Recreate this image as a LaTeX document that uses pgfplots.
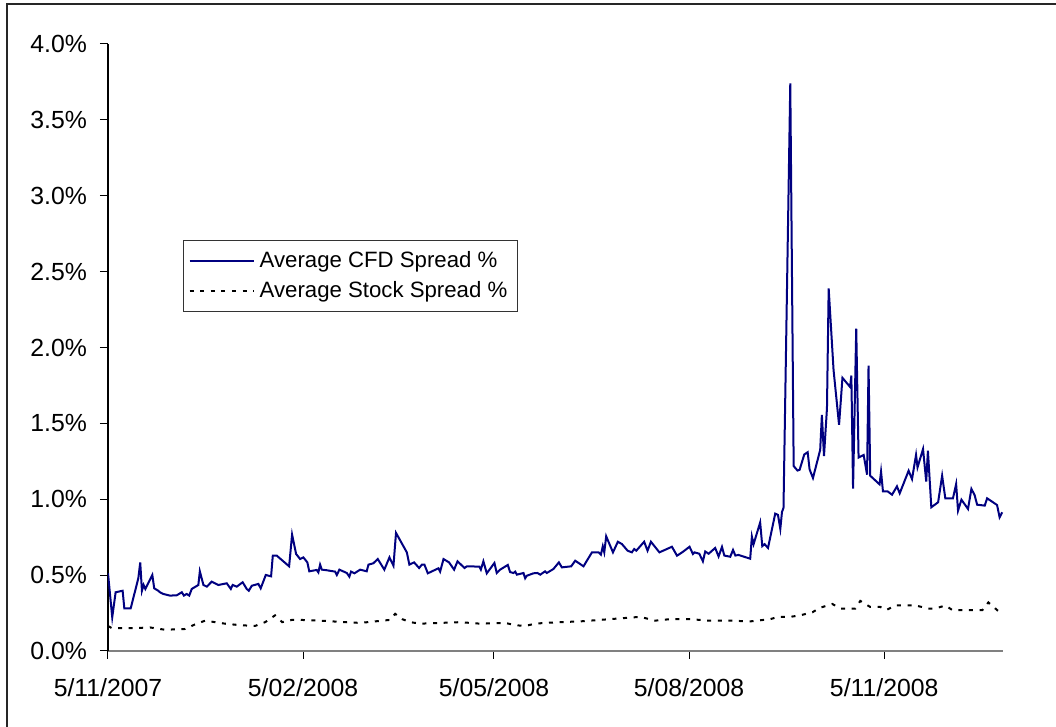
\documentclass[border=0pt]{standalone}
\usepackage{fontspec}
\setmainfont{Liberation Sans}
\usepackage{pgfplots}
\pgfplotsset{compat=1.18}
\definecolor{cfdblue}{RGB}{0,0,128}

\begin{document}
\begin{tikzpicture}
% page = whole chart area, frame only shows on top and left
\useasboundingbox (-54pt,-38pt) rectangle (474pt,325.5pt);
\draw[line width=1pt, black!85] (-50.5pt,-40pt) -- (-50.5pt,323.5pt) -- (476pt,323.5pt);
\begin{axis}[
    at={(0pt,0pt)}, anchor=south west,
    scale only axis,
    width=447.5pt, height=303.5pt,
    xmin=0, xmax=422, ymin=0, ymax=4,
    axis lines*=left,
    x axis line style={draw=gray, line width=1pt},
    y axis line style={draw=black, line width=0.6pt},
    tick align=outside,
    major tick length=4pt,
    tick style={black, line width=0.5pt},
    xtick={0,92,182,274,366},
    xticklabels={5/11/2007,5/02/2008,5/05/2008,5/08/2008,5/11/2008},
    ytick={0,0.5,...,4},
    yticklabel={\pgfmathprintnumber[fixed,fixed zerofill,precision=1,assume math mode=true]{\tick}\%},
    tick label style={font=\fontsize{12.4}{14}\selectfont},
    xticklabel style={yshift=-6pt},
    yticklabel style={xshift=-3pt},
    legend image code/.code={\draw[#1] (0pt,0pt) -- (32pt,0pt);},
    legend cell align=left,
    legend style={at={(0.0838,0.677)}, anchor=north west,
        draw=black!80, line width=0.5pt,
        font=\fontsize{11.1}{13}\selectfont,
        inner xsep=2.5pt, inner ysep=4pt, row sep=2.5pt,
        nodes={inner xsep=2.6pt, inner ysep=1.5pt}},
]

% Average CFD spread (%), x = days since 5/11/2007
\addplot[cfdblue, line width=1pt] coordinates {
(0,0.512) (2.0,0.222) (3.6,0.387) (6.9,0.397) (7.7,0.281) (10.7,0.281)
(14.3,0.479) (15.2,0.584) (16.0,0.397) (16.8,0.435) (17.6,0.409) (20.9,0.501)
(21.8,0.413) (23.7,0.397) (24.5,0.387) (26.1,0.376) (29.2,0.365) (32.4,0.367)
(34.8,0.387) (35.8,0.365) (37.1,0.376) (38.3,0.365) (39.5,0.409) (42.6,0.435)
(43.3,0.525) (45.0,0.435) (46.6,0.424) (48.9,0.457) (52.0,0.435) (56.0,0.446)
(57.9,0.409) (58.8,0.435) (60.7,0.424) (63.5,0.453) (65.4,0.409) (66.4,0.397)
(67.8,0.430) (70.9,0.442) (72.0,0.413) (72.8,0.442) (74.4,0.501) (76.9,0.492)
(77.7,0.628) (79.6,0.628) (85.4,0.558) (86.8,0.767) (88.7,0.639) (90.6,0.606)
(92.1,0.617) (94.0,0.584) (94.9,0.525) (98.4,0.534) (99.2,0.518) (100.0,0.569)
(100.8,0.536) (103.2,0.532) (107.1,0.523) (107.9,0.501) (109.1,0.536) (112.6,0.514)
(113.8,0.490) (114.6,0.523) (116.2,0.512) (118.9,0.536) (122.0,0.525) (122.8,0.569)
(125.1,0.578) (127.2,0.606) (130.3,0.536) (132.7,0.617) (134.6,0.562) (135.8,0.778)
(140.9,0.650) (142.1,0.569) (144.3,0.584) (146.7,0.547) (148.0,0.569) (149.2,0.569)
(150.8,0.512) (155.8,0.545) (156.6,0.523) (158.2,0.606) (160.8,0.584) (163.2,0.536)
(164.8,0.591) (168.1,0.547) (169.2,0.558) (175.1,0.556) (175.8,0.536) (177.0,0.591)
(178.6,0.512) (182.2,0.580) (183.3,0.514) (184.9,0.536) (188.5,0.567) (189.6,0.520)
(191.2,0.514) (192.0,0.523) (192.8,0.503) (195.9,0.514) (196.7,0.479) (197.5,0.496)
(200.6,0.512) (202.5,0.514) (203.8,0.503) (206.1,0.525) (206.9,0.514) (210.0,0.540)
(212.6,0.584) (214.0,0.551) (218.4,0.558) (220.3,0.595) (224.2,0.558) (226.1,0.602)
(228.2,0.650) (231.3,0.650) (232.4,0.635) (233.3,0.690) (234.0,0.650) (234.9,0.756)
(238.1,0.650) (240.4,0.720) (242.3,0.705) (245.0,0.661) (247.0,0.650) (248.1,0.672)
(249.1,0.661) (252.8,0.720) (254.4,0.661) (256.0,0.720) (260.0,0.650) (265.9,0.687)
(268.3,0.628) (271.1,0.654) (274.2,0.687) (275.8,0.639) (276.5,0.650) (278.8,0.641)
(280.5,0.591) (281.6,0.656) (283.2,0.641) (286.3,0.679) (287.9,0.623) (289.5,0.686)
(290.6,0.629) (293.4,0.621) (294.7,0.666) (295.8,0.629) (297.3,0.633) (302.8,0.608)
(303.6,0.754) (304.4,0.704) (307.5,0.847) (308.5,0.691) (309.6,0.704) (311.2,0.679)
(314.6,0.905) (315.9,0.897) (317.0,0.805) (317.8,0.917) (318.5,0.942) (321.7,3.740)
(323.3,1.219) (325.1,1.189) (326.1,1.194) (328.3,1.295) (329.9,1.310) (330.8,1.197)
(332.4,1.140) (335.8,1.325) (336.6,1.555) (337.6,1.285) (339.0,1.600) (339.8,2.390)
(342.1,1.853) (344.7,1.490) (346.3,1.800) (349.9,1.740) (350.5,1.815) (351.3,1.070)
(352.8,2.125) (353.9,1.275) (356.3,1.292) (357.9,1.162) (358.6,1.880) (359.4,1.155)
(363.8,1.098) (364.5,1.182) (365.4,1.052) (367.6,1.052) (369.7,1.030) (372.0,1.085)
(373.3,1.039) (377.5,1.188) (379.1,1.133) (381.0,1.292) (381.7,1.210) (384.3,1.331)
(385.8,1.116) (386.6,1.320) (388.2,0.947) (391.4,0.980) (393.3,1.155) (394.8,1.006)
(398.4,1.006) (399.9,1.100) (400.8,0.925) (402.4,0.997) (405.5,0.936) (407.1,1.068)
(408.6,1.028) (409.8,0.964) (413.4,0.958) (414.5,1.006) (419.2,0.962) (420.4,0.881)
(421.6,0.914)
};
\addlegendentry{Average CFD Spread \%}

% Average stock spread (%)
\addplot[black, line width=1pt, dash pattern=on 2pt off 3.3pt] coordinates {
(0,0.165) (1.9,0.15) (10.4,0.15) (19.8,0.155) (26.9,0.14) (36.3,0.145)
(41.0,0.175) (45.8,0.20) (50.5,0.19) (55.2,0.18) (62.3,0.17) (69.3,0.165)
(74.1,0.19) (78.8,0.235) (82.1,0.19) (86.8,0.205) (90.6,0.205) (100.0,0.20)
(111.8,0.19) (118.9,0.185) (125.9,0.195) (133.0,0.205) (135.4,0.245) (138.7,0.21)
(142.5,0.19) (147.2,0.18) (156.6,0.185) (166.0,0.19) (175.5,0.18) (187.3,0.185)
(192.0,0.17) (196.7,0.165) (201.4,0.18) (206.1,0.185) (213.2,0.19) (222.6,0.195)
(232.1,0.205) (241.5,0.215) (250.9,0.225) (258.0,0.20) (265.1,0.21) (274.5,0.21)
(283.0,0.20) (293.4,0.20) (302.8,0.195) (312.3,0.21) (316.0,0.225) (321.7,0.225)
(326.4,0.235) (332.1,0.255) (335.8,0.285) (341.5,0.31) (345.3,0.28) (352.4,0.28)
(354.7,0.33) (359.4,0.29) (364.2,0.29) (367.0,0.27) (371.2,0.30) (380.7,0.30)
(386.8,0.28) (390.1,0.28) (394.8,0.30) (398.1,0.27) (404.2,0.27) (408.9,0.27)
(412.3,0.27) (415.1,0.32) (418.4,0.28) (420.8,0.25)
};
\addlegendentry{Average Stock Spread \%}

\end{axis}
\end{tikzpicture}
\end{document}
